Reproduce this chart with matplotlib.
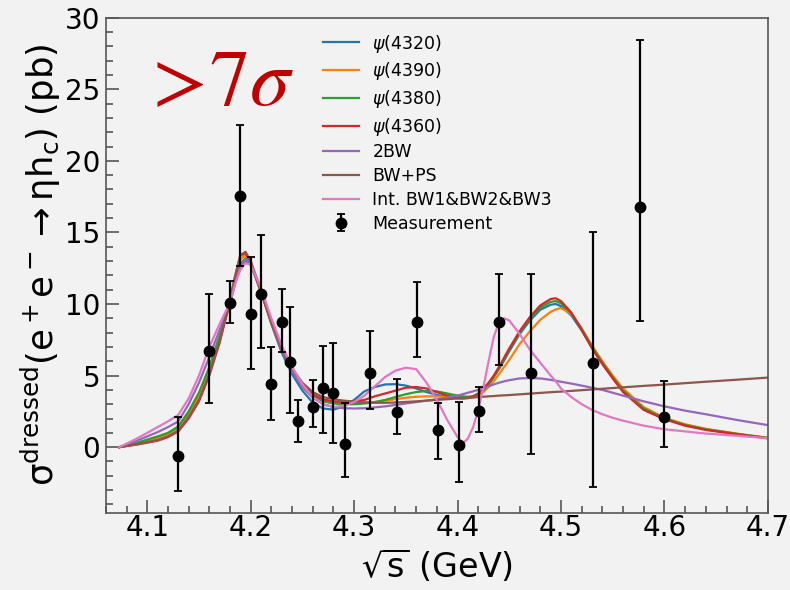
import matplotlib
matplotlib.use("Agg")
import matplotlib.pyplot as plt
from matplotlib.ticker import MultipleLocator

# ---- measured dressed cross section ----
energy = [4.130, 4.160, 4.180, 4.190, 4.200, 4.210, 4.220, 4.230, 4.238, 4.246,
          4.260, 4.270, 4.280, 4.291, 4.315, 4.341, 4.361, 4.381, 4.401, 4.421,
          4.440, 4.471, 4.531, 4.576, 4.600]
xsec = [-0.65, 6.75, 10.1, 17.57, 9.3, 10.68, 4.4, 8.74, 5.94, 1.82,
        2.84, 4.1, 3.8, 0.19, 5.2, 2.47, 8.76, 1.19, 0.14, 2.52,
        8.72, 5.2, 5.9, 16.76, 2.14]
err_lo = [2.4, 3.7, 1.45, 4.9, 3.82, 3.78, 2.51, 2.12, 3.52, 1.45,
          1.42, 3.14, 3.5, 2.26, 2.5, 1.58, 2.46, 2.05, 2.59, 1.49,
          2.99, 5.69, 8.7, 7.95, 2.12]
err_hi = [2.75, 3.95, 1.53, 4.9, 4.0, 4.12, 2.6, 2.3, 3.86, 1.5,
          1.84, 2.96, 3.5, 2.89, 2.9, 2.28, 2.8, 1.86, 2.98, 1.68,
          3.35, 6.87, 9.1, 11.7, 2.48]

# ---- fit curves, sampled on a common energy grid ----
fit_x = [4.073, 4.09, 4.11, 4.12, 4.13, 4.14, 4.15, 4.16, 4.17, 4.18,
         4.185, 4.19, 4.195, 4.20, 4.21, 4.22, 4.23, 4.24, 4.25, 4.26,
         4.27, 4.28, 4.29, 4.30, 4.31, 4.32, 4.33, 4.34, 4.35, 4.36,
         4.37, 4.38, 4.39, 4.40, 4.405, 4.41, 4.415, 4.42, 4.425, 4.43,
         4.435, 4.44, 4.445, 4.45, 4.46, 4.47, 4.48, 4.49, 4.495, 4.50,
         4.51, 4.52, 4.53, 4.54, 4.55, 4.56, 4.58, 4.60, 4.62, 4.64,
         4.67, 4.70]

fit_psi4320 = [0, 0.28, 0.7, 0.95, 1.35, 2.4, 3.7, 5.5, 7.7, 10.0,
               11.5, 12.6, 13.0, 12.75, 10.9, 8.6, 6.6, 5.1, 3.95, 3.1,
               2.7, 2.62, 2.85, 3.3, 3.9, 4.2, 4.38, 4.4, 4.3, 4.1,
               3.85, 3.65, 3.5, 3.42, 3.4, 3.42, 3.5, 3.7, 4.0, 4.4,
               4.9, 5.45, 6.05, 6.7, 7.9, 8.85, 9.6, 9.95, 10.0, 9.85,
               9.2, 8.15, 6.95, 5.85, 4.85, 3.95, 2.7, 2.0, 1.55, 1.25,
               0.92, 0.64]
fit_psi4390 = [0, 0.25, 0.6, 0.85, 1.25, 2.2, 3.5, 5.3, 7.5, 10.1,
               11.8, 13.1, 13.45, 12.85, 10.85, 8.7, 6.8, 5.4, 4.35, 3.6,
               3.25, 3.1, 3.05, 3.05, 3.1, 3.15, 3.25, 3.35, 3.45, 3.52,
               3.55, 3.55, 3.5, 3.45, 3.43, 3.43, 3.47, 3.6, 3.85, 4.2,
               4.6, 5.1, 5.6, 6.1, 7.2, 8.1, 8.9, 9.45, 9.62, 9.72,
               9.3, 8.3, 7.1, 6.0, 5.0, 4.1, 2.8, 2.05, 1.6, 1.28,
               0.95, 0.65]
fit_psi4380 = [0, 0.3, 0.75, 1.0, 1.45, 2.5, 3.8, 5.6, 7.8, 10.1,
               11.6, 12.8, 13.2, 12.8, 10.9, 8.7, 6.8, 5.35, 4.3, 3.55,
               3.2, 3.05, 3.0, 3.0, 3.05, 3.15, 3.3, 3.5, 3.7, 3.85,
               3.92, 3.9, 3.75, 3.6, 3.55, 3.52, 3.55, 3.7, 4.0, 4.4,
               4.9, 5.5, 6.15, 6.8, 8.0, 9.0, 9.75, 10.15, 10.2, 10.05,
               9.35, 8.25, 7.0, 5.9, 4.9, 3.95, 2.7, 2.0, 1.55, 1.25,
               0.92, 0.64]
fit_psi4360 = [0, 0.18, 0.45, 0.7, 1.1, 2.0, 3.2, 5.0, 7.3, 10.2,
               11.9, 13.4, 13.55, 12.9, 10.8, 8.7, 6.8, 5.4, 4.4, 3.7,
               3.35, 3.2, 3.15, 3.2, 3.3, 3.55, 3.75, 3.95, 4.15, 4.2,
               4.1, 3.85, 3.6, 3.45, 3.42, 3.45, 3.55, 3.75, 4.1, 4.5,
               5.0, 5.6, 6.25, 6.9, 8.1, 9.1, 9.9, 10.35, 10.4, 10.2,
               9.4, 8.2, 6.9, 5.8, 4.8, 3.85, 2.6, 1.95, 1.5, 1.2,
               0.9, 0.62]
fit_2bw = [0, 0.45, 1.05, 1.4, 1.8, 3.0, 4.5, 6.3, 8.2, 10.1,
           11.5, 12.6, 13.1, 12.9, 11.0, 8.8, 6.8, 5.3, 4.2, 3.45,
           3.0, 2.8, 2.72, 2.7, 2.72, 2.78, 2.85, 2.95, 3.05, 3.15,
           3.25, 3.35, 3.47, 3.6, 3.7, 3.8, 3.9, 4.0, 4.12, 4.25,
           4.38, 4.5, 4.6, 4.68, 4.8, 4.83, 4.8, 4.7, 4.64, 4.57,
           4.44, 4.3, 4.15, 4.0, 3.8, 3.6, 3.2, 2.85, 2.55, 2.3,
           1.9, 1.54]
fit_bw_ps = [0, 0.2, 0.5, 0.75, 1.15, 2.1, 3.3, 5.1, 7.4, 10.3,
             12.0, 13.4, 13.65, 13.0, 10.9, 8.8, 6.9, 5.5, 4.5, 3.85,
             3.5, 3.35, 3.25, 3.18, 3.13, 3.1, 3.1, 3.12, 3.16, 3.2,
             3.25, 3.3, 3.35, 3.4, 3.42, 3.45, 3.47, 3.5, 3.52, 3.55,
             3.57, 3.6, 3.62, 3.64, 3.69, 3.74, 3.79, 3.84, 3.86, 3.88,
             3.93, 3.98, 4.03, 4.08, 4.13, 4.18, 4.28, 4.37, 4.47, 4.57,
             4.71, 4.86]
fit_int3bw = [0, 0.6, 1.4, 1.8, 2.25, 3.4, 5.0, 7.0, 8.6, 10.1,
              11.4, 12.4, 12.85, 12.75, 11.1, 9.0, 7.1, 5.6, 4.4, 3.5,
              3.0, 2.8, 2.9, 3.15, 3.6, 4.25, 4.9, 5.35, 5.55, 5.45,
              4.5, 3.3, 1.9, 0.7, 0.27, 0.6, 1.4, 2.6, 4.2, 6.0,
              7.7, 8.7, 9.0, 8.85, 7.9, 6.8, 5.9, 5.0, 4.6, 4.1,
              3.5, 3.0, 2.6, 2.3, 2.05, 1.85, 1.5, 1.25, 1.1, 0.95,
              0.8, 0.62]

curve_series = [
    (fit_psi4320, r"$\psi$(4320)", "tab:blue"),
    (fit_psi4390, r"$\psi$(4390)", "tab:orange"),
    (fit_psi4380, r"$\psi$(4380)", "tab:green"),
    (fit_psi4360, r"$\psi$(4360)", "tab:red"),
    (fit_2bw, "2BW", "tab:purple"),
    (fit_bw_ps, "BW+PS", "tab:brown"),
    (fit_int3bw, "Int. BW1&BW2&BW3", "tab:pink"),
]

bg = "#f2f2f2"
axis_grey = "#555555"

fig = plt.figure(figsize=(7.9, 5.9), dpi=100, facecolor=bg)
ax = fig.add_axes([0.134, 0.1305, 0.838, 0.8395], facecolor=bg)

for ys, lab, col in curve_series:
    ax.plot(fit_x, ys, color=col, lw=1.6, label=lab)

ax.errorbar(energy, xsec, yerr=[err_lo, err_hi], fmt="o", color="black",
            ms=7.5, elinewidth=1.6, capsize=3, capthick=1.3,
            label="Measurement", zorder=5)

ax.set_xlim(4.06, 4.70)
ax.set_ylim(-4.6, 30)
ax.xaxis.set_major_locator(MultipleLocator(0.1))
ax.xaxis.set_minor_locator(MultipleLocator(0.02))
ax.yaxis.set_major_locator(MultipleLocator(5))
ax.yaxis.set_minor_locator(MultipleLocator(1))
ax.tick_params(which="both", direction="in", colors=axis_grey,
               labelcolor="black", labelsize=20, width=1.2)
ax.tick_params(which="major", length=9.5)
ax.tick_params(which="minor", length=5)
ax.tick_params(axis="x", pad=1)
ax.tick_params(axis="y", pad=4)
for s in ax.spines.values():
    s.set_color(axis_grey)
    s.set_linewidth(1.2)

ax.set_xlabel(r"$\sqrt{\rm s}$ (GeV)", fontsize=24, labelpad=3)
ax.set_ylabel(r"$\mathrm{σ}^{\mathrm{dressed}}(\mathrm{e^+e^-\rightarrow ηh_c})$ (pb)",
              fontsize=25.5, labelpad=1)

leg = ax.legend(loc="upper left", bbox_to_anchor=(0.328, 0.970),
                frameon=False, fontsize=12.5, handlelength=2.1,
                handletextpad=0.75, labelspacing=0.33, borderpad=0,
                borderaxespad=0)

fig.text(0.178, 0.822, r"$>\!\mathit{7}\sigma$", color="#c00000",
         fontsize=58, math_fontfamily="stix", ha="left", va="baseline")

fig.savefig("out.png", dpi=100, facecolor=bg)
